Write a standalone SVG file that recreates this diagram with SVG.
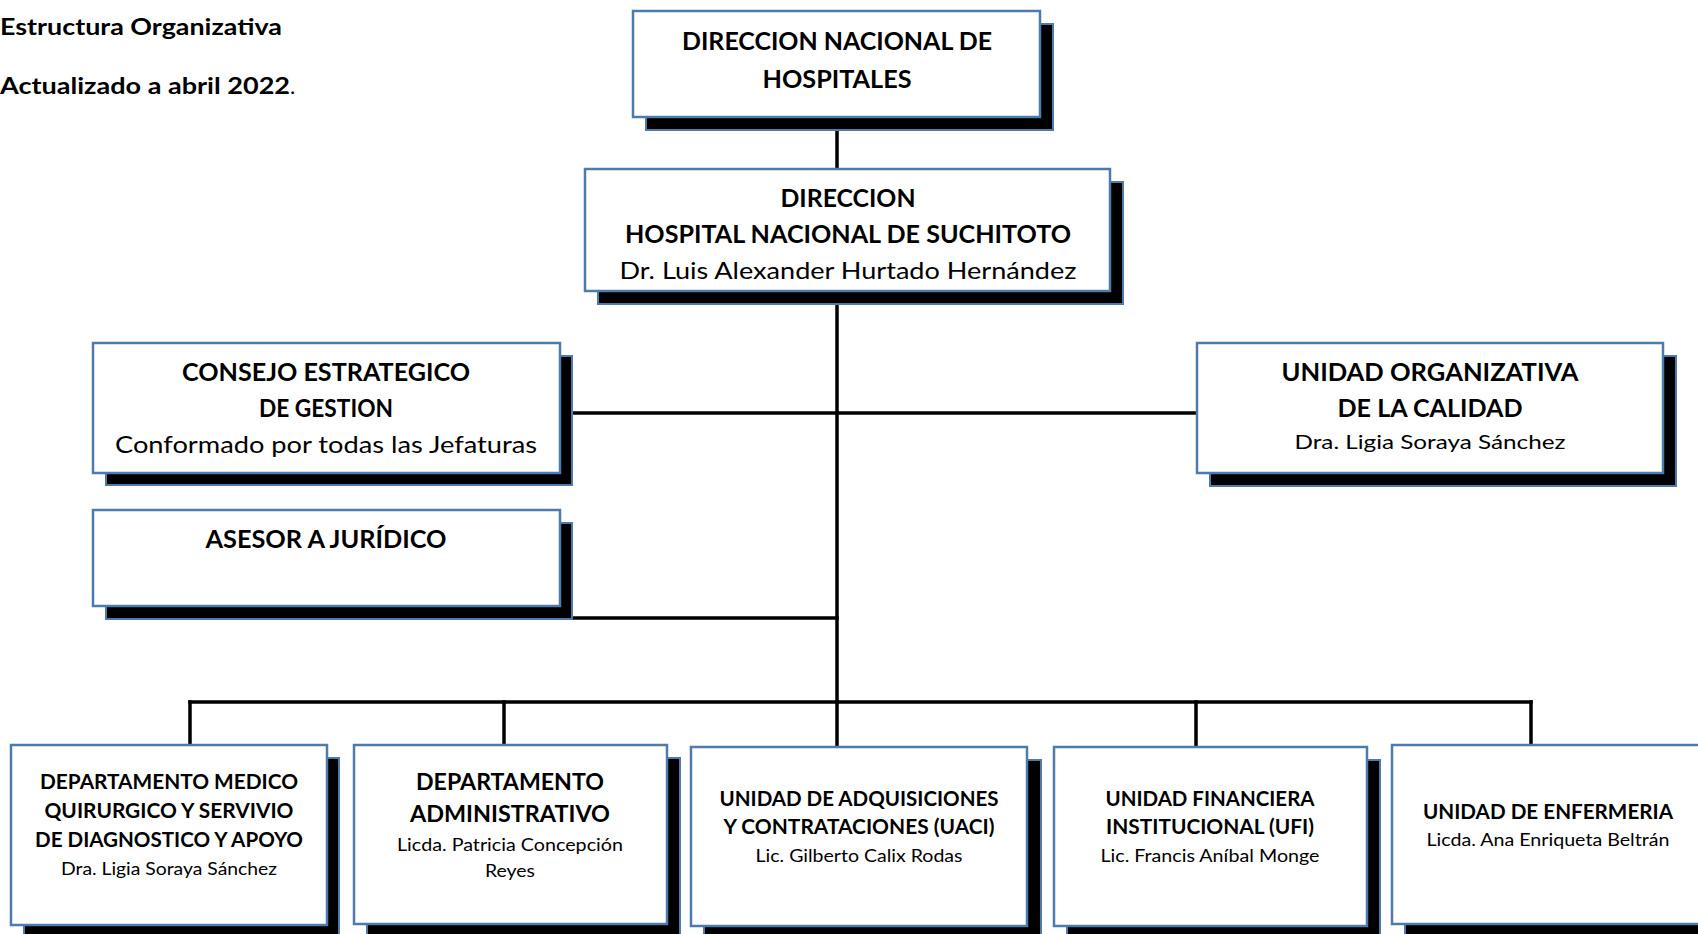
<svg xmlns="http://www.w3.org/2000/svg" width="1698" height="934" viewBox="0 0 1698 934">
<style>
.bx{fill:#fff;stroke:#4f7bac;stroke-width:2.5}
.sh{fill:#000;stroke:#4f7bac;stroke-width:2}
.ln{stroke:#000;stroke-width:3.5;fill:none;stroke-linecap:square}
text{font-family:Lato,"Open Sans","Liberation Sans",sans-serif;fill:#000;text-anchor:middle}
.b{font-weight:bold}
.t{text-anchor:start;font-weight:bold;font-size:22px}
</style>
<rect width="1698" height="934" fill="#fff"/>
<text class="t" x="0" y="35" textLength="282" lengthAdjust="spacingAndGlyphs">Estructura Organizativa</text>
<text class="t" x="0" y="94"><tspan textLength="290" lengthAdjust="spacingAndGlyphs">Actualizado a abril 2022</tspan><tspan font-weight="normal">.</tspan></text>
<g id="connectors">
<line class="ln" x1="837" y1="117" x2="837" y2="169"/>
<line class="ln" x1="837" y1="292" x2="837" y2="702"/>
<line class="ln" x1="560" y1="413" x2="1197" y2="413"/>
<line class="ln" x1="560" y1="618" x2="837" y2="618"/>
<line class="ln" x1="190" y1="702" x2="1531" y2="702"/>
<line class="ln" x1="190" y1="702" x2="190" y2="745"/>
<line class="ln" x1="504" y1="702" x2="504" y2="745"/>
<line class="ln" x1="837" y1="702" x2="837" y2="747"/>
<line class="ln" x1="1196" y1="702" x2="1196" y2="747"/>
<line class="ln" x1="1531" y1="702" x2="1531" y2="745"/>
</g>
<g id="n1">
<rect class="sh" x="646" y="24" width="407" height="106"/>
<rect class="bx" x="633" y="11" width="407" height="106"/>
<text class="b" x="837" y="50" font-size="25" textLength="310" lengthAdjust="spacingAndGlyphs">DIRECCION NACIONAL DE</text>
<text class="b" x="837" y="88" font-size="25" textLength="149" lengthAdjust="spacingAndGlyphs">HOSPITALES</text>
</g>
<g id="n2">
<rect class="sh" x="598" y="182" width="525" height="122"/>
<rect class="bx" x="585" y="169" width="525" height="122"/>
<text class="b" x="848" y="207" font-size="24" textLength="135" lengthAdjust="spacingAndGlyphs">DIRECCION</text>
<text class="b" x="848" y="243" font-size="24" textLength="446" lengthAdjust="spacingAndGlyphs">HOSPITAL NACIONAL DE SUCHITOTO</text>
<text x="848" y="279" font-size="24" textLength="457" lengthAdjust="spacingAndGlyphs">Dr. Luis Alexander Hurtado Hernández</text>
</g>
<g id="n3">
<rect class="sh" x="106" y="356" width="466" height="129"/>
<rect class="bx" x="93" y="343" width="467" height="130"/>
<text class="b" x="326" y="381" font-size="24" textLength="288" lengthAdjust="spacingAndGlyphs">CONSEJO ESTRATEGICO</text>
<text class="b" x="326" y="417" font-size="24" textLength="134" lengthAdjust="spacingAndGlyphs">DE GESTION</text>
<text x="326" y="453" font-size="24" textLength="422" lengthAdjust="spacingAndGlyphs">Conformado por todas las Jefaturas</text>
</g>
<g id="n4">
<rect class="sh" x="1210" y="356" width="466" height="130"/>
<rect class="bx" x="1197" y="343" width="466" height="130"/>
<text class="b" x="1430" y="381" font-size="24" textLength="297" lengthAdjust="spacingAndGlyphs">UNIDAD ORGANIZATIVA</text>
<text class="b" x="1430" y="417" font-size="24" textLength="185" lengthAdjust="spacingAndGlyphs">DE LA CALIDAD</text>
<text x="1430" y="449" font-size="20" textLength="271" lengthAdjust="spacingAndGlyphs">Dra. Ligia Soraya Sánchez</text>
</g>
<g id="n5">
<rect class="sh" x="106" y="523" width="466" height="96"/>
<rect class="bx" x="93" y="510" width="467" height="96"/>
<text class="b" x="326" y="548" font-size="24" textLength="241" lengthAdjust="spacingAndGlyphs">ASESOR A JURÍDICO</text>
</g>
<g id="n6">
<rect class="sh" x="24" y="758" width="315" height="190"/>
<rect class="bx" x="11" y="745" width="316" height="180"/>
<text class="b" x="169" y="789" font-size="20" textLength="258" lengthAdjust="spacingAndGlyphs">DEPARTAMENTO MEDICO</text>
<text class="b" x="169" y="818" font-size="20" textLength="249" lengthAdjust="spacingAndGlyphs">QUIRURGICO Y SERVIVIO</text>
<text class="b" x="169" y="847" font-size="20" textLength="268" lengthAdjust="spacingAndGlyphs">DE DIAGNOSTICO Y APOYO</text>
<text x="169" y="875" font-size="18" textLength="216" lengthAdjust="spacingAndGlyphs">Dra. Ligia Soraya Sánchez</text>
</g>
<g id="n7">
<rect class="sh" x="367" y="758" width="313" height="190"/>
<rect class="bx" x="354" y="745" width="313" height="179"/>
<text class="b" x="510" y="790" font-size="22" textLength="188" lengthAdjust="spacingAndGlyphs">DEPARTAMENTO</text>
<text class="b" x="510" y="822" font-size="22" textLength="200" lengthAdjust="spacingAndGlyphs">ADMINISTRATIVO</text>
<text x="510" y="851" font-size="18" textLength="226" lengthAdjust="spacingAndGlyphs">Licda. Patricia Concepción</text>
<text x="510" y="877" font-size="18" textLength="50" lengthAdjust="spacingAndGlyphs">Reyes</text>
</g>
<g id="n8">
<rect class="sh" x="704" y="760" width="337" height="190"/>
<rect class="bx" x="691" y="747" width="336" height="179"/>
<text class="b" x="859" y="806" font-size="20" textLength="279" lengthAdjust="spacingAndGlyphs">UNIDAD DE ADQUISICIONES</text>
<text class="b" x="859" y="834" font-size="20" textLength="271" lengthAdjust="spacingAndGlyphs">Y CONTRATACIONES (UACI)</text>
<text x="859" y="862" font-size="18" textLength="207" lengthAdjust="spacingAndGlyphs">Lic. Gilberto Calix Rodas</text>
</g>
<g id="n9">
<rect class="sh" x="1067" y="760" width="313" height="190"/>
<rect class="bx" x="1054" y="747" width="313" height="179"/>
<text class="b" x="1210" y="806" font-size="20" textLength="209" lengthAdjust="spacingAndGlyphs">UNIDAD FINANCIERA</text>
<text class="b" x="1210" y="834" font-size="20" textLength="208" lengthAdjust="spacingAndGlyphs">INSTITUCIONAL (UFI)</text>
<text x="1210" y="862" font-size="18" textLength="219" lengthAdjust="spacingAndGlyphs">Lic. Francis Aníbal Monge</text>
</g>
<g id="n10">
<rect class="sh" x="1405" y="758" width="320" height="190"/>
<rect class="bx" x="1392" y="745" width="320" height="179"/>
<text class="b" x="1548" y="819" font-size="20" textLength="250" lengthAdjust="spacingAndGlyphs">UNIDAD DE ENFERMERIA</text>
<text x="1548" y="846" font-size="18" textLength="243" lengthAdjust="spacingAndGlyphs">Licda. Ana Enriqueta Beltrán</text>
</g>
</svg>
